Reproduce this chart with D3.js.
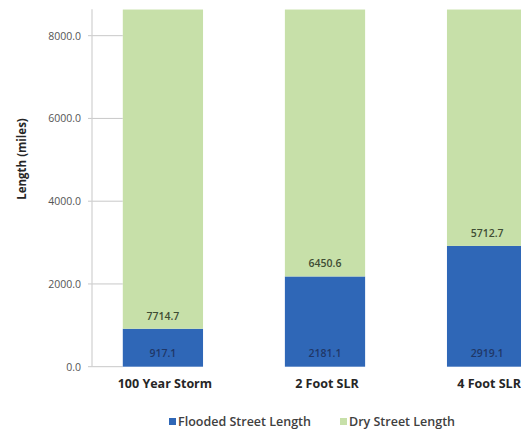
<!DOCTYPE html>
<html>
<head>
<meta charset="utf-8">
<script src="https://cdn.jsdelivr.net/npm/d3@7"></script>
<style>
  html, body { margin: 0; padding: 0; background: #fff; }
  svg { display: block; font-family: "Open Sans", "Noto Sans", sans-serif; }
</style>
</head>
<body>
<svg id="chart" width="521" height="431"></svg>
<script>
const categories = ["100 Year Storm", "2 Foot SLR", "4 Foot SLR"];
const flooded = [917.1, 2181.1, 2919.1];
const dry = [7714.7, 6450.6, 5712.7];
const seriesNames = ["Flooded Street Length", "Dry Street Length"];
const seriesColors = ["#2f67b7", "#c7e0a9"];
const yTicks = [0, 2000, 4000, 6000, 8000];
const yTitle = "Length (miles)";

const svg = d3.select("#chart");

const rows = categories.map((c, i) => ({ cat: c, flooded: flooded[i], dry: dry[i] }));
const stack = d3.stack().keys(["flooded", "dry"])(rows);

const y = d3.scaleLinear().domain([0, 8640]).range([366.7, 9.2]);
const x = d3.scaleBand().domain(categories)
  .range([92, 558]).paddingInner(0.505).paddingOuter(0.19);

// tick lines (from left of axis to first bar)
const tickG = svg.append("g");
tickG.selectAll("line").data(yTicks).join("line")
  .attr("x1", 88).attr("x2", x(categories[0]))
  .attr("y1", d => y(d)).attr("y2", d => y(d))
  .attr("stroke", "#c8c8c8").attr("stroke-width", 1);

// y axis
const yAxis = d3.axisLeft(y).tickValues(yTicks).tickFormat(d3.format(".1f")).tickSize(0).tickPadding(11);
const yG = svg.append("g").attr("transform", "translate(92,0)").call(yAxis);
yG.select(".domain").attr("stroke", "#d0d0d0").attr("stroke-width", 1.2)
  .attr("d", `M0,${y.range()[1]}V${y(0)}`);
yG.selectAll("text").attr("fill", "#555").attr("font-size", 10.5).attr("font-weight", 500)
  .attr("font-family", "Open Sans, sans-serif");

// bars
svg.append("g").selectAll("g").data(stack).join("g")
  .attr("fill", (d, i) => seriesColors[i])
  .selectAll("rect").data(d => d).join("rect")
  .attr("x", d => x(d.data.cat))
  .attr("width", x.bandwidth())
  .attr("y", d => y(d[1]))
  .attr("height", d => y(d[0]) - y(d[1]));

// value labels (inside base)
const lblG = svg.append("g").attr("font-size", 10.5).attr("font-weight", 600).attr("text-anchor", "middle");
lblG.selectAll("text.fl").data(rows).join("text").attr("class", "fl")
  .attr("x", d => x(d.cat) + x.bandwidth() / 2)
  .attr("y", d => y(0) - 9.5)
  .attr("fill", "#1f3768")
  .text(d => d.flooded.toFixed(1));
lblG.selectAll("text.dr").data(rows).join("text").attr("class", "dr")
  .attr("x", d => x(d.cat) + x.bandwidth() / 2)
  .attr("y", d => y(d.flooded) - 9)
  .attr("fill", "#3f4d34")
  .text(d => d.dry.toFixed(1));

// category labels
svg.append("g").selectAll("text").data(categories).join("text")
  .attr("x", d => x(d) + x.bandwidth() / 2 + 2)
  .attr("y", 388)
  .attr("text-anchor", "middle")
  .attr("font-size", 12.5).attr("font-weight", 700).attr("fill", "#262626")
  .text(d => d);

// y title
svg.append("text")
  .attr("transform", "translate(26,159) rotate(-90)")
  .attr("text-anchor", "middle")
  .attr("font-size", 11.5).attr("font-weight", 700).attr("fill", "#262626")
  .text(yTitle);

// legend
const legendX = [169, 340];
const lg = svg.append("g");
seriesNames.forEach((n, i) => {
  lg.append("rect").attr("x", legendX[i]).attr("y", 418).attr("width", 7).attr("height", 7)
    .attr("fill", seriesColors[i]);
  lg.append("text").attr("x", legendX[i] + 9).attr("y", 426)
    .attr("font-size", 12.5).attr("font-weight", 600).attr("fill", "#404040").text(n);
});
</script>
</body>
</html>
